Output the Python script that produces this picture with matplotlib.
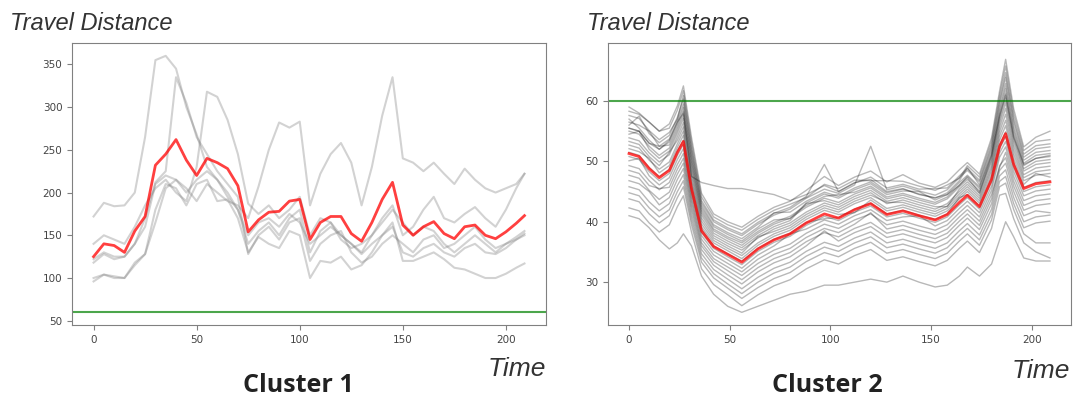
import matplotlib
matplotlib.use("Agg")
import matplotlib.pyplot as plt

# ---- Cluster 1: a handful of trajectories + mean (red) ----
t1 = [0, 5, 10, 15, 20, 25, 30, 35, 40, 45, 50, 55, 60, 65, 70, 75, 80, 85, 90, 95,
      100, 105, 110, 115, 120, 125, 130, 135, 140, 145, 150, 155, 160, 165, 170, 175,
      180, 185, 190, 195, 200, 205, 209]
c1_mean = [125, 140, 138, 130, 155, 172, 232, 245, 262, 238, 220, 240, 235, 228, 208, 154,
           168, 177, 178, 190, 192, 145, 165, 172, 172, 152, 143, 165, 192, 212, 162, 150,
           160, 166, 152, 146, 160, 162, 150, 146, 154, 164, 173]
c1_a = [172, 188, 184, 185, 200, 265, 355, 360, 345, 300, 268, 230, 215, 200, 180, 150,
        165, 170, 160, 175, 165, 140, 150, 160, 150, 140, 128, 140, 150, 160, 130, 125,
        135, 140, 130, 125, 135, 140, 130, 128, 135, 145, 152]
c1_b = [118, 128, 122, 125, 140, 170, 212, 225, 335, 305, 265, 245, 225, 210, 195, 128,
        150, 160, 145, 165, 170, 120, 140, 150, 155, 130, 118, 125, 140, 150, 140, 130,
        145, 150, 135, 140, 150, 160, 145, 135, 140, 145, 150]
c1_c = [140, 150, 145, 140, 160, 185, 205, 215, 200, 190, 230, 318, 312, 285, 245, 187,
        175, 185, 170, 180, 195, 150, 170, 165, 145, 135, 140, 150, 165, 180, 165, 150,
        160, 155, 140, 130, 140, 150, 140, 130, 140, 148, 155]
c1_d = [100, 104, 102, 100, 115, 128, 165, 205, 215, 205, 190, 210, 200, 190, 185, 170,
        207, 250, 282, 276, 283, 185, 222, 245, 258, 235, 185, 230, 290, 335, 240, 235,
        225, 235, 222, 210, 228, 215, 205, 200, 205, 210, 222]
c1_e = [96, 104, 100, 100, 118, 128, 180, 210, 205, 185, 210, 215, 190, 192, 170, 130,
        148, 140, 135, 155, 150, 100, 120, 118, 125, 110, 115, 130, 150, 165, 120, 120,
        125, 130, 122, 112, 110, 105, 100, 100, 105, 112, 117]
c1_f = [122, 130, 125, 125, 140, 160, 210, 220, 215, 200, 215, 225, 215, 195, 180, 140,
        155, 165, 150, 170, 180, 130, 155, 165, 150, 140, 130, 150, 170, 185, 150, 160,
        180, 195, 170, 165, 175, 183, 170, 160, 180, 205, 222]
c1_lines = [c1_a, c1_b, c1_c, c1_d, c1_e, c1_f]

# ---- Cluster 2: many trajectories + mean (red) ----
t2 = [0, 5, 10, 15, 20, 24, 27, 31, 36, 42, 49, 56, 64, 72, 80, 88, 97, 104, 112, 120,
      128, 136, 144, 152, 158, 164, 168, 174, 180, 184, 187, 191, 196, 202, 209]
c2_mean = [51.3, 50.8, 48.8, 47.3, 48.5, 51.5, 53.3, 45.5, 38.5, 35.9, 34.6, 33.3, 35.5,
           37.0, 38.0, 39.8, 41.3, 40.6, 42.0, 43.0, 41.2, 41.8, 41.0, 40.3, 41.2, 43.2,
           44.4, 42.5, 47.0, 52.5, 54.6, 49.5, 45.5, 46.3, 46.6]
c2_lines = [
    [59.0, 58.0, 56.5, 55.0, 56.2, 59.2, 62.5, 54.0, 44.7, 41.3, 40.0, 39.1, 40.9, 42.4, 43.4, 45.2, 47.5, 46.0, 47.4, 48.4, 46.6, 47.8, 46.4, 45.7, 46.6, 48.6, 49.8, 47.9, 53.9, 61.7, 66.9, 58.7, 52.4, 54.0, 55.0],
    [58.3, 57.8, 56.5, 55.0, 55.5, 58.5, 61.7, 53.2, 44.1, 40.8, 39.5, 38.6, 40.4, 41.9, 42.9, 44.0, 46.2, 45.5, 46.9, 46.8, 46.8, 46.7, 45.9, 45.2, 46.1, 47.2, 49.3, 47.4, 53.3, 60.9, 65.8, 57.9, 51.8, 53.3, 53.6],
    [57.6, 57.1, 55.1, 53.6, 54.8, 57.0, 60.9, 52.4, 43.5, 40.3, 39.0, 38.0, 39.9, 41.4, 42.4, 44.2, 49.5, 45.0, 46.4, 47.4, 45.6, 46.2, 45.4, 45.5, 45.6, 47.6, 48.8, 46.9, 52.7, 60.1, 64.7, 57.1, 51.2, 52.6, 52.9],
    [56.0, 57.5, 54.6, 53.1, 54.3, 57.3, 60.3, 51.9, 43.1, 40.0, 38.7, 37.7, 39.6, 41.1, 42.1, 43.9, 45.4, 44.7, 46.1, 52.5, 45.3, 45.9, 45.1, 44.4, 45.3, 47.3, 48.5, 46.6, 52.2, 59.5, 63.9, 56.5, 50.7, 52.1, 52.4],
    [56.5, 56.0, 55.0, 52.5, 53.7, 56.7, 59.5, 51.2, 42.7, 39.5, 38.2, 37.2, 39.1, 41.5, 41.6, 43.4, 44.9, 44.2, 45.6, 46.6, 44.8, 45.4, 44.6, 43.9, 44.8, 46.8, 49.0, 46.1, 51.7, 58.7, 62.9, 55.7, 50.2, 51.5, 51.8],
    [57.0, 55.5, 53.5, 52.0, 53.2, 56.2, 58.9, 50.7, 42.3, 39.2, 37.9, 36.8, 38.8, 40.3, 40.5, 43.1, 44.6, 43.9, 45.3, 46.3, 44.5, 45.1, 45.0, 43.6, 44.5, 46.5, 47.7, 45.8, 51.2, 58.1, 62.1, 55.1, 49.7, 51.0, 51.3],
    [55.5, 55.0, 53.0, 52.5, 52.7, 55.7, 58.3, 50.1, 41.9, 38.8, 37.5, 36.5, 38.4, 39.9, 40.9, 42.7, 44.2, 44.5, 44.9, 45.9, 44.1, 44.7, 43.9, 43.2, 44.1, 46.1, 47.3, 44.8, 50.8, 57.5, 61.3, 54.5, 49.3, 50.5, 50.8],
    [55.0, 54.5, 52.5, 51.0, 52.2, 55.2, 57.7, 49.6, 41.5, 38.5, 37.2, 36.1, 38.1, 39.6, 40.6, 42.4, 43.9, 43.2, 44.6, 45.6, 43.8, 44.4, 43.6, 42.9, 43.8, 45.8, 47.0, 45.1, 50.3, 56.9, 60.5, 53.9, 48.8, 50.0, 50.3],
    [54.5, 55.0, 52.0, 50.5, 51.7, 54.7, 57.1, 49.0, 41.1, 38.1, 36.8, 35.7, 37.7, 39.2, 40.2, 43.0, 43.5, 42.8, 44.2, 45.2, 43.4, 44.0, 43.2, 42.5, 42.5, 45.4, 46.6, 44.7, 49.9, 56.3, 59.7, 53.3, 48.4, 49.5, 49.8],
    [53.9, 53.4, 51.4, 49.9, 51.1, 54.1, 56.4, 48.4, 40.6, 37.7, 36.4, 35.3, 37.3, 38.8, 39.8, 41.6, 43.1, 42.4, 43.8, 44.8, 43.0, 43.6, 42.8, 42.1, 43.0, 45.0, 46.2, 44.3, 49.3, 55.6, 58.8, 52.6, 47.8, 48.9, 49.2],
    [53.3, 52.8, 50.8, 49.3, 51.5, 53.5, 55.7, 47.7, 40.1, 37.3, 36.0, 34.8, 37.5, 38.4, 39.4, 41.2, 42.7, 42.0, 43.4, 44.4, 43.2, 43.2, 42.4, 41.7, 42.6, 44.6, 45.8, 43.9, 48.8, 54.9, 57.8, 51.9, 47.3, 48.3, 48.6],
    [52.7, 52.2, 50.2, 48.7, 49.9, 52.9, 55.0, 47.0, 39.6, 36.9, 35.6, 34.4, 36.5, 38.0, 39.0, 40.8, 42.3, 41.6, 43.0, 44.0, 42.2, 42.8, 42.0, 41.3, 42.2, 44.2, 45.4, 43.5, 48.3, 54.2, 56.8, 51.2, 46.8, 47.7, 48.0],
    [52.1, 51.6, 50.5, 48.1, 49.3, 52.3, 54.3, 46.4, 39.1, 36.5, 35.2, 33.9, 36.1, 37.6, 38.6, 40.4, 41.9, 41.2, 41.5, 43.6, 41.8, 42.4, 41.6, 40.9, 41.8, 43.8, 45.0, 43.1, 47.7, 53.5, 55.9, 50.5, 46.2, 48.0, 47.4],
    [51.5, 51.0, 49.0, 47.5, 48.7, 51.7, 53.5, 45.7, 38.7, 36.0, 34.7, 33.5, 35.6, 37.1, 38.1, 39.9, 40.5, 40.7, 42.1, 43.1, 41.3, 41.9, 41.1, 40.4, 41.3, 44.0, 44.5, 42.6, 47.2, 52.7, 54.9, 49.7, 45.7, 46.5, 46.8],
    [50.8, 50.3, 48.3, 46.8, 48.0, 51.0, 52.8, 45.1, 38.2, 35.6, 34.2, 32.9, 35.1, 36.6, 37.6, 39.4, 40.9, 40.2, 41.6, 42.6, 40.8, 41.4, 40.6, 39.9, 40.8, 42.8, 44.0, 42.1, 46.6, 52.1, 54.1, 49.0, 45.0, 45.8, 46.1],
    [50.1, 50.5, 47.6, 46.1, 47.3, 50.3, 52.1, 44.5, 37.7, 35.1, 33.7, 32.3, 34.5, 36.0, 38.0, 38.8, 40.3, 39.6, 41.0, 42.0, 40.2, 40.8, 41.0, 39.3, 40.2, 42.2, 43.4, 41.5, 45.9, 51.4, 53.3, 48.3, 44.3, 45.1, 45.4],
    [49.3, 48.8, 46.8, 45.3, 46.5, 49.5, 51.3, 43.9, 37.1, 34.5, 33.1, 31.7, 33.8, 35.3, 36.3, 38.1, 39.6, 38.9, 40.3, 41.3, 39.5, 40.1, 39.3, 38.6, 39.5, 41.5, 42.7, 40.8, 45.2, 50.7, 52.4, 47.5, 43.5, 44.3, 44.6],
    [48.5, 48.0, 46.0, 45.5, 45.7, 48.7, 50.5, 43.3, 36.5, 33.9, 32.5, 31.1, 33.1, 34.6, 35.6, 37.4, 38.9, 38.2, 39.6, 41.5, 38.8, 39.4, 38.6, 37.9, 38.8, 40.8, 42.0, 40.1, 44.5, 49.0, 51.5, 46.7, 42.7, 43.5, 43.8],
    [47.7, 47.2, 45.2, 43.7, 44.9, 47.9, 49.7, 42.6, 36.0, 33.4, 31.9, 30.4, 32.4, 33.9, 34.9, 36.7, 38.2, 37.5, 38.9, 39.9, 38.1, 38.7, 37.9, 37.2, 38.1, 40.1, 41.3, 39.4, 43.8, 49.3, 50.6, 45.9, 41.9, 42.7, 43.0],
    [46.8, 46.3, 45.0, 42.8, 44.0, 47.0, 48.8, 41.9, 35.4, 32.8, 31.2, 29.7, 31.7, 33.2, 34.2, 36.0, 38.5, 36.8, 38.2, 39.2, 37.4, 38.0, 37.2, 36.5, 37.4, 39.4, 40.6, 38.7, 43.0, 48.5, 49.7, 45.0, 41.0, 41.8, 41.5],
    [45.8, 45.3, 43.3, 41.8, 43.0, 46.0, 47.8, 41.1, 34.7, 32.1, 30.5, 28.9, 30.8, 32.3, 33.3, 35.1, 36.6, 35.9, 37.3, 38.3, 36.5, 37.1, 36.3, 35.6, 36.5, 38.5, 39.7, 37.8, 42.1, 47.6, 48.6, 44.0, 40.0, 40.8, 41.1],
    [44.8, 44.3, 42.3, 40.8, 42.0, 45.0, 46.8, 40.3, 34.0, 31.4, 29.7, 28.1, 30.0, 31.5, 32.5, 34.3, 35.8, 35.1, 36.5, 37.5, 35.7, 36.3, 35.5, 34.8, 35.7, 37.7, 38.9, 37.0, 41.2, 46.7, 47.5, 43.0, 39.0, 39.8, 40.1],
    [43.8, 43.3, 41.3, 39.8, 41.0, 44.0, 45.8, 39.5, 33.3, 30.7, 29.0, 27.3, 29.1, 30.6, 31.6, 33.4, 34.9, 34.2, 35.6, 36.6, 34.8, 35.4, 34.6, 33.9, 34.8, 36.8, 38.0, 36.1, 40.3, 45.8, 46.4, 42.0, 38.0, 36.5, 36.5],
    [42.3, 41.8, 39.8, 38.3, 39.5, 42.5, 44.3, 38.3, 32.2, 29.6, 27.9, 26.1, 27.9, 29.4, 30.4, 32.2, 33.7, 33.0, 34.4, 35.4, 33.6, 34.2, 33.4, 32.7, 33.6, 35.6, 36.8, 34.9, 38.9, 44.4, 44.7, 40.5, 36.5, 35.0, 34.0],
    [41.0, 40.5, 39.0, 37.0, 35.5, 36.5, 38.0, 36.0, 31.0, 28.0, 26.0, 25.0, 26.0, 27.0, 28.0, 28.5, 29.5, 29.5, 30.0, 30.5, 30.0, 31.0, 30.0, 29.2, 29.5, 31.0, 32.5, 31.0, 33.0, 37.0, 40.0, 37.5, 34.0, 33.5, 33.5],
    [55.5, 55.0, 53.0, 52.0, 53.5, 56.5, 58.0, 47.5, 46.5, 46.0, 45.5, 45.5, 45.0, 44.5, 43.5, 44.5, 46.0, 45.0, 46.5, 47.0, 45.0, 45.5, 44.5, 44.0, 44.5, 46.0, 47.5, 45.5, 51.0, 57.5, 61.0, 54.0, 49.5, 50.5, 51.0],
]
threshold = 60

fig = plt.figure(figsize=(10.78, 3.98), dpi=100)
ax1 = fig.add_axes([0.0668, 0.1834, 0.4397, 0.7085])
ax2 = fig.add_axes([0.564, 0.1834, 0.4295, 0.7085])

for ln in c1_lines:
    ax1.plot(t1, ln, color="gray", alpha=0.35, lw=1.5)
ax1.plot(t1, c1_mean, color="red", alpha=0.75, lw=2)
ax1.axhline(threshold, color="green", alpha=0.7, lw=1.5)
ax1.set_ylim(45, 375)

for ln in c2_lines:
    ax2.plot(t2, ln, color="black", alpha=0.28, lw=1)
ax2.plot(t2, c2_mean, color="red", alpha=0.75, lw=2)
ax2.axhline(threshold, color="green", alpha=0.7, lw=1.5)
ax2.set_ylim(22.9, 69.6)

for ax in (ax1, ax2):
    ax.set_xlim(-10.45, 219.45)
    ax.set_xticks([0, 50, 100, 150, 200])
    for sp in ax.spines.values():
        sp.set_color("#808080")
    ax.tick_params(labelsize=7.5, colors="#808080", labelcolor="#444444", length=3.5)

ital = dict(family="Liberation Sans", style="italic", color="#333333")
fig.text(0.0093, 0.9246, "Travel Distance", fontsize=17, va="baseline", **ital)
fig.text(0.5445, 0.9246, "Travel Distance", fontsize=17, va="baseline", **ital)
fig.text(0.4527, 0.0553, "Time", fontsize=19, va="baseline", **ital)
fig.text(0.9388, 0.0503, "Time", fontsize=19, va="baseline", **ital)

bold = dict(family="Open Sans", weight="bold", color="#222222", fontsize=18,
            ha="center", va="baseline")
fig.text(0.2764, 0.0151, "Cluster 1", **bold)
fig.text(0.7672, 0.0151, "Cluster 2", **bold)

fig.savefig("out.png", dpi=100)
